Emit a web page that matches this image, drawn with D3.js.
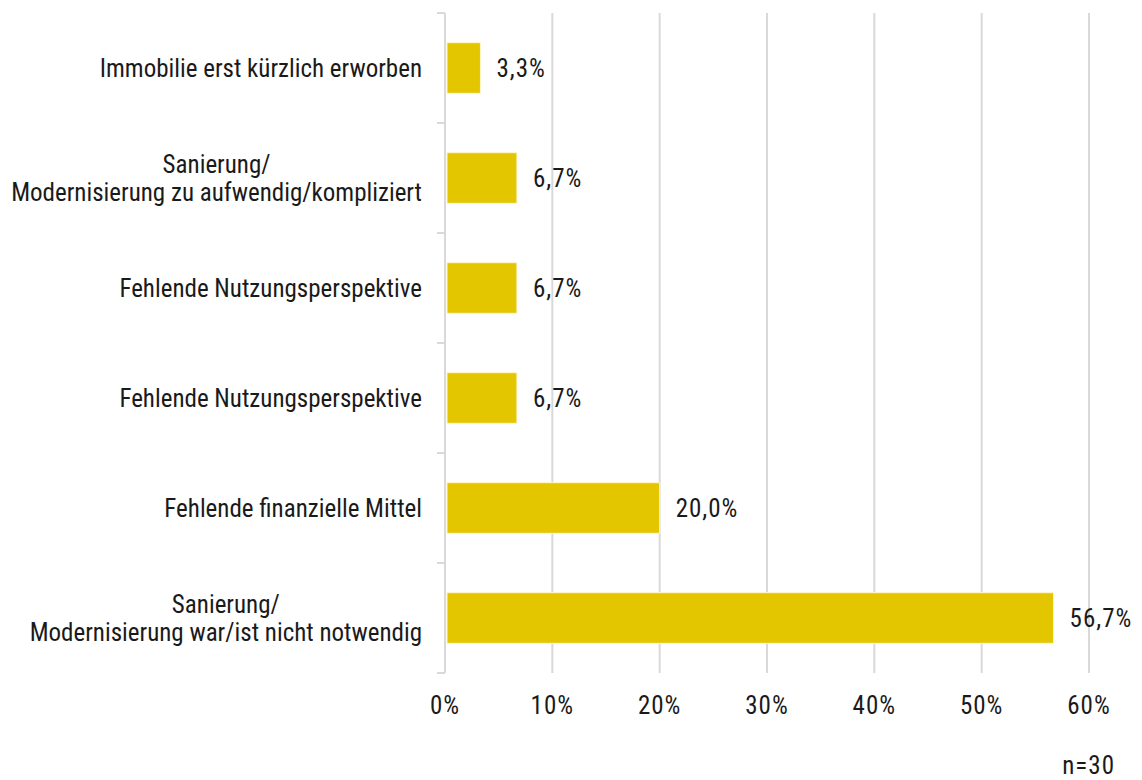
<!DOCTYPE html>
<html>
<head>
<meta charset="utf-8">
<script src="https://cdn.jsdelivr.net/npm/d3@7"></script>
<style>
  body { margin: 0; background: #fff; }
  svg text { font-family: "Liberation Sans Narrow", "Roboto Condensed", "Noto Sans", sans-serif; fill: #1a1a1a; font-size: 25px; }
  .num { letter-spacing: 1px; }
</style>
</head>
<body>
<svg id="chart" width="1142" height="780"></svg>
<script>
// 資料
const categories = [
  ["Immobilie erst kürzlich erworben"],
  ["Sanierung/", "Modernisierung zu aufwendig/kompliziert"],
  ["Fehlende Nutzungsperspektive"],
  ["Fehlende Nutzungsperspektive"],
  ["Fehlende finanzielle Mittel"],
  ["Sanierung/", "Modernisierung war/ist nicht notwendig"]
];
const values = [3.3, 6.7, 6.7, 6.7, 20.0, 56.7];
const xTicks = [0, 10, 20, 30, 40, 50, 60];
const note = "n=30";

const svg = d3.select("#chart");
const plotL = 445, plotR = 1089, plotT = 13, plotB = 673;

const x = d3.scaleLinear().domain([0, 60]).range([plotL, plotR]);
const y = d3.scaleBand().domain(d3.range(values.length)).range([plotT, plotB])
  .paddingInner(0.54).paddingOuter(0.27);

// 格線
svg.append("g").selectAll("line").data(xTicks.slice(1)).enter().append("line")
  .attr("x1", d => x(d)).attr("x2", d => x(d))
  .attr("y1", plotT).attr("y2", plotB)
  .attr("stroke", "#d9d9d9").attr("stroke-width", 2);

// 左軸
svg.append("line")
  .attr("x1", plotL).attr("x2", plotL).attr("y1", plotT).attr("y2", plotB)
  .attr("stroke", "#d9d9d9").attr("stroke-width", 2);
svg.append("g").selectAll("line").data(d3.range(values.length + 1)).enter().append("line")
  .attr("x1", plotL - 8).attr("x2", plotL)
  .attr("y1", i => plotT + i * (plotB - plotT) / values.length)
  .attr("y2", i => plotT + i * (plotB - plotT) / values.length)
  .attr("stroke", "#d9d9d9").attr("stroke-width", 2);

// 長條
svg.append("g").selectAll("rect").data(values).enter().append("rect")
  .attr("x", x(0) + 2)
  .attr("y", (d, i) => y(i))
  .attr("width", d => x(d) - x(0) - 2)
  .attr("height", y.bandwidth())
  .attr("fill", "#e3c500")
  .attr("stroke", "#fff6cc").attr("stroke-width", 1);

// 數值
svg.append("g").selectAll("text").data(values).enter().append("text")
  .attr("class", "num")
  .attr("x", d => x(d) + 16)
  .attr("y", (d, i) => y(i) + y.bandwidth() / 2)
  .attr("dy", "0.35em")
  .text(d => d.toFixed(1).replace(".", ",") + "%");

// 類別
const labelRight = 422, lineH = 28;
categories.forEach((lines, i) => {
  const cy = y(i) + y.bandwidth() / 2;
  const g = svg.append("g");
  const texts = lines.map((t, j) => g.append("text")
    .attr("dy", "0.35em")
    .attr("y", cy + (j - (lines.length - 1) / 2) * lineH)
    .text(t));
  const w = d3.max(texts, t => t.node().getComputedTextLength());
  texts.forEach(t => t.attr("text-anchor", "middle").attr("x", labelRight - w / 2));
});

// X軸刻度
svg.append("g").selectAll("text").data(xTicks).enter().append("text")
  .attr("class", "num")
  .attr("x", d => x(d))
  .attr("y", 705)
  .attr("dy", "0.35em")
  .attr("text-anchor", "middle")
  .text(d => d + "%");

svg.append("text")
  .attr("class", "num")
  .attr("x", 1115).attr("y", 765)
  .attr("dy", "0.35em")
  .attr("text-anchor", "end")
  .text(note);
</script>
</body>
</html>
